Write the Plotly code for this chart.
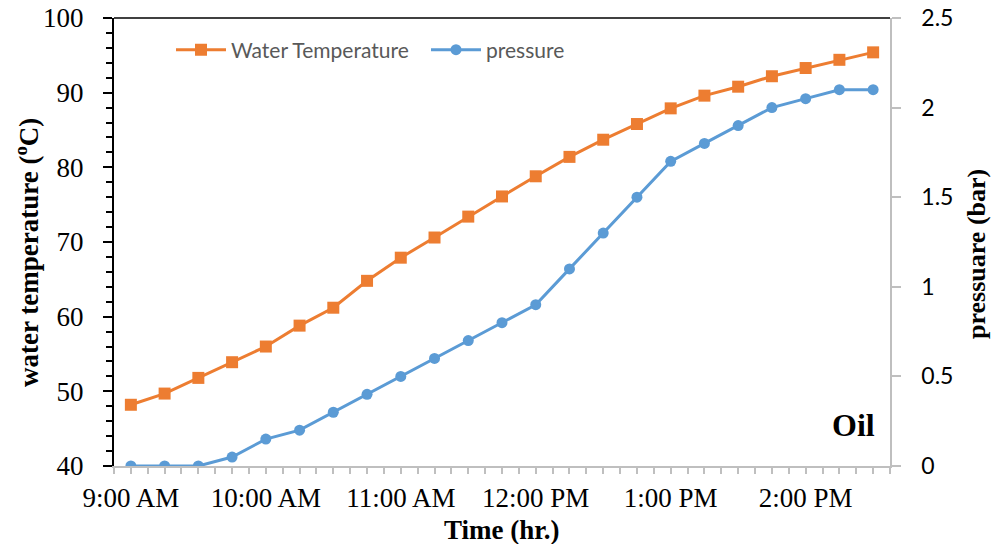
import plotly.graph_objects as go

# Data
times = ["09:00", "09:15", "09:30", "09:45", "10:00", "10:15", "10:30", "10:45",
         "11:00", "11:15", "11:30", "11:45", "12:00", "12:15", "12:30", "12:45",
         "13:00", "13:15", "13:30", "13:45", "14:00", "14:15", "14:30"]
water_temperature = [48.2, 49.7, 51.8, 53.9, 56.0, 58.8, 61.2, 64.8,
                     67.9, 70.6, 73.4, 76.1, 78.8, 81.4, 83.7, 85.8,
                     87.9, 89.6, 90.8, 92.2, 93.3, 94.4, 95.4]
pressure = [0.0, 0.0, 0.0, 0.05, 0.15, 0.2, 0.3, 0.4,
            0.5, 0.6, 0.7, 0.8, 0.9, 1.1, 1.3, 1.5,
            1.7, 1.8, 1.9, 2.0, 2.05, 2.1, 2.1]

DAY = "2024-01-01 "
x = [DAY + t for t in times]

ORANGE = "#ED7D31"
BLUE = "#5B9BD5"
GREY = "#BFBFBF"
SERIF = "Liberation Serif, Times New Roman, serif"
SANS = "Lato, Open Sans, sans-serif"

L, R, T, B = 114, 101, 18, 78
W, H = 991, 544
PW, PH = W - L - R, H - T - B


def px(xp):
    return (xp - L) / PW


def py(yp):
    return (H - B - yp) / PH


fig = go.Figure()
fig.add_trace(go.Scatter(
    x=x, y=water_temperature, name="Water Temperature", mode="lines+markers",
    line=dict(color=ORANGE, width=3),
    marker=dict(symbol="square", size=12, color=ORANGE),
    yaxis="y"))
fig.add_trace(go.Scatter(
    x=x, y=pressure, name="pressure", mode="lines+markers",
    line=dict(color=BLUE, width=3),
    marker=dict(symbol="circle", size=11, color=BLUE),
    yaxis="y2"))

fig.update_layout(
    width=W, height=H,
    margin=dict(l=L, r=R, t=T, b=B, autoexpand=False),
    paper_bgcolor="white", plot_bgcolor="white",
    showlegend=True,
    legend=dict(orientation="h", x=px(171), xanchor="left",
                y=py(50), yanchor="middle",
                font=dict(family=SANS, size=21, color="#595959"),
                bgcolor="rgba(0,0,0,0)", entrywidth=190, entrywidthmode="pixels",
                itemwidth=50),
    xaxis=dict(
        type="date", automargin=False,
        range=[DAY + "08:52:30", DAY + "14:37:30"],
        tick0=DAY + "09:00", dtick=3600000,
        tickformat="%-I:%M %p",
        showgrid=False, zeroline=False,
        showline=True, linecolor=GREY, linewidth=1.5,
        ticks="outside", ticklen=6, tickwidth=1.5, tickcolor=GREY,
        minor=dict(dtick=450000, tick0=DAY + "08:52:30", ticks="outside",
                   ticklen=6, tickwidth=1.5, tickcolor=GREY, showgrid=False),
        tickfont=dict(family=SERIF, size=27, color="black"),
        ticklabelstandoff=1,
    ),
    yaxis=dict(
        automargin=False,
        range=[40, 100], dtick=10, tick0=40,
        showgrid=False, zeroline=False,
        showline=True, linecolor="black", linewidth=2,
        ticks="outside", ticklen=9, tickwidth=1.5, tickcolor="black",
        minor=dict(dtick=2, ticks="outside", ticklen=6, tickwidth=1.5,
                   tickcolor="black", showgrid=False),
        tickfont=dict(family=SERIF, size=27, color="black"),
        ticklabelstandoff=14,
    ),
    yaxis2=dict(
        overlaying="y", side="right", automargin=False,
        range=[0, 2.5], dtick=0.5, tick0=0,
        showgrid=False, zeroline=False,
        showline=True, linecolor=GREY, linewidth=1.5,
        ticks="outside", ticklen=9, tickwidth=1.5, tickcolor=GREY,
        tickfont=dict(family=SANS, size=23, color="black"),
        ticklabelstandoff=16,
    ),
    shapes=[dict(type="line", xref="paper", yref="paper", x0=0, x1=1, y0=1, y1=1,
                 line=dict(color="black", width=1.5))],
    annotations=[
        dict(text="<b>Oil</b>", xref="paper", yref="paper",
             x=px(877), y=py(425), xanchor="right", yanchor="middle",
             showarrow=False, font=dict(family=SERIF, size=32, color="black")),
        dict(text="<b>Time (hr.)</b>", xref="paper", yref="paper",
             x=px(502), y=py(530), xanchor="center", yanchor="middle",
             showarrow=False, font=dict(family=SERIF, size=27, color="black")),
        dict(text="<b>water temperature (<sup>o</sup>C)</b>", xref="paper", yref="paper",
             x=px(27), y=py(253), xanchor="center", yanchor="middle", textangle=-90,
             showarrow=False, font=dict(family=SERIF, size=27, color="black")),
        dict(text="<b>pressuare (bar)</b>", xref="paper", yref="paper",
             x=px(976), y=py(254), xanchor="center", yanchor="middle", textangle=-90,
             showarrow=False, font=dict(family=SERIF, size=26, color="black")),
    ],
)

fig.write_html("out.html", config={"displayModeBar": False},
               post_script="document.body.style.margin='0px';document.body.style.overflow='hidden';")
